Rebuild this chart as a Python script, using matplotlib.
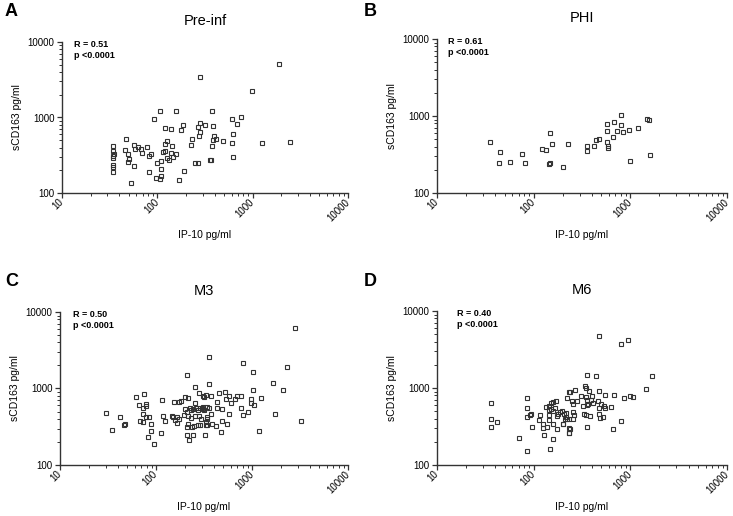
import matplotlib
matplotlib.use("Agg")
import matplotlib.pyplot as plt
from matplotlib.ticker import LogLocator, NullFormatter, FixedLocator

plt.rcParams['font.family'] = ['Liberation Sans', 'DejaVu Sans']

# Pre-inf (IP-10 pg/ml, sCD163 pg/ml)
pre_ip10 = [34, 34, 35, 34, 34, 34, 34, 34, 47, 46, 49, 57, 58, 63, 68, 69, 77, 85, 82, 51,
            49, 57, 53, 82, 99, 109, 109, 96, 107, 109, 116, 121, 138, 157, 145, 126, 133, 126, 120, 143,
            107, 158, 93, 121, 140, 187, 177, 281, 317, 267, 279, 276, 230, 226, 191, 169, 250, 267, 357, 281,
            1880, 993, 378, 612, 761, 686, 384, 394, 410, 384, 489, 627, 612, 375, 1256, 2466, 627, 366]
pre_scd163 = [423, 360, 332, 309, 288, 235, 219, 188, 524, 371, 329, 428, 386, 403, 379, 336, 403, 326, 309, 279,
              255, 226, 134, 190, 247, 208, 168, 157, 155, 263, 352, 357, 339, 329, 303, 288, 276, 493, 446, 419,
              1230, 1220, 946, 719, 698, 803, 683, 853, 803, 741, 643, 574, 519, 436, 194, 149, 252, 252, 274, 3390,
              5160, 2244, 1220, 964, 1015, 813, 771, 569, 524, 504, 493, 599, 455, 423, 455, 474, 303, 276]

# PHI
phi_ip10 = [35, 45, 44, 57, 76, 81, 122, 135, 149, 155, 145, 149, 200, 228, 358, 358, 424, 438,
            473, 569, 573, 573, 582, 582, 661, 681, 726, 800, 805, 838, 968, 998, 1207, 1486, 1568, 1594]
phi_scd163 = [455, 338, 243, 255, 321, 248, 376, 365, 601, 433, 238, 243, 216, 437, 404, 348, 411, 484,
              507, 639, 780, 464, 411, 388, 529, 828, 644, 764, 1040, 614, 658, 263, 705, 906, 879, 312]

# M3
m3_ip10 = [354, 210, 253, 354, 75, 62, 66, 79, 79, 74, 115, 155, 175, 184, 202, 217, 255, 279, 306, 316,
           332, 74, 68, 73, 79, 84, 88, 89, 83, 95, 113, 119, 125, 146, 151, 164, 172, 159, 167, 200,
           209, 226, 232, 245, 261, 276, 287, 304, 316, 337, 196, 217, 232, 257, 283, 292, 214, 235, 251, 276,
           287, 337, 209, 209, 245, 324, 219, 30, 42, 46, 48, 35,
           2805, 805, 1023, 2315, 1656, 2118, 1016, 527, 453, 377, 572, 540, 609, 665, 698, 774, 432, 977,
           968, 1050, 1242, 359, 432, 483, 768, 901, 811, 580, 1750, 377, 337, 342, 332, 334, 380, 419,
           487, 553, 3266, 472, 1175, 306, 311]
m3_scd163 = [2558, 1515, 1056, 1145, 847, 774, 614, 627, 596, 556, 701, 666, 672, 680, 781, 751, 646, 865, 805, 767,
             822, 460, 379, 365, 420, 424, 340, 276, 230, 187, 259, 437, 372, 437, 420, 428, 403, 388, 357, 545,
             498, 556, 524, 540, 556, 524, 556, 556, 524, 568, 455, 437, 408, 437, 437, 395, 340, 317, 324, 330,
             330, 336, 311, 249, 247, 244, 214, 474, 424, 336, 340, 287,
             6237, 2135, 1629, 1893, 1169, 955, 947, 908, 873, 798, 798, 722, 652, 722, 798, 798, 660, 722,
             652, 608, 751, 556, 556, 535, 561, 498, 447, 464, 469, 460, 420, 395, 365, 336, 347, 326,
             376, 340, 376, 270, 281, 578, 545]

# M6
m6_ip10 = [36, 36, 36, 42, 70, 85, 86, 86, 86, 92, 94, 95, 113, 116, 124, 126, 138, 144, 145, 143,
           134, 145, 150, 160, 169, 151, 157, 166, 173, 180, 187, 198, 204, 214, 219, 160, 173, 200, 128, 157,
           147, 221, 232, 230, 230,
           470, 800, 945, 356, 441, 1671, 1459, 337, 350, 371, 267, 237, 477, 308, 347, 404, 550, 676, 859,
           998, 1064, 249, 282, 353, 391, 462, 257, 326, 353, 367, 413, 493, 530, 546, 625, 477, 214, 257,
           261, 209, 233, 257, 331, 350, 382, 477, 485, 518, 201, 237, 233, 353, 800, 665]
m6_scd163 = [644, 396, 314, 365, 226, 152, 748, 550, 416, 442, 464, 314, 388, 450, 344, 305, 312, 388, 446, 518,
             566, 589, 633, 664, 678, 529, 498, 545, 433, 459, 492, 502, 459, 424, 396, 341, 294, 344, 243, 216,
             163, 748, 879, 300, 262,
             4780, 3760, 4240, 1489, 1419, 1432, 971, 1062, 991, 922, 950, 887, 914, 794, 771, 787, 804, 804, 735,
             787, 757, 684, 684, 698, 705, 678, 614, 589, 596, 625, 644, 620, 584, 550, 561, 555, 478, 488,
             442, 399, 399, 399, 459, 442, 433, 459, 411, 420, 341, 296, 258, 314, 376, 296]

panels = [
    ("A", "Pre-inf", pre_ip10, pre_scd163, "R = 0.51", [62, 42, 348, 193], 0.042),
    ("B", "PHI", phi_ip10, phi_scd163, "R = 0.61", [437, 39, 727, 193], 0.038),
    ("C", "M3", m3_ip10, m3_scd163, "R = 0.50", [60, 312, 348, 465], 0.044),
    ("D", "M6", m6_ip10, m6_scd163, "R = 0.40", [437, 311, 727, 465], 0.069),
]

W, H = 733, 516
fig = plt.figure(figsize=(W / 100, H / 100), dpi=100)

for letter, title, xs, ys, rtext, (x0, y0, x1, y1), tx in panels:
    ax = fig.add_axes([x0 / W, 1 - y1 / H, (x1 - x0) / W, (y1 - y0) / H])
    ax.plot(xs, ys, ls='none', marker='s', markersize=3.2, mfc='none',
            mec='#333333', mew=0.8)
    ax.set_xscale('log')
    ax.set_yscale('log')
    ax.set_xlim(10, 10000)
    ax.set_ylim(100, 10000)
    ax.xaxis.set_major_locator(FixedLocator([10, 100, 1000, 10000]))
    ax.yaxis.set_major_locator(FixedLocator([100, 1000, 10000]))
    for axis in (ax.xaxis, ax.yaxis):
        axis.set_minor_locator(LogLocator(base=10, subs=range(2, 10)))
        axis.set_minor_formatter(NullFormatter())
    ax.set_xticklabels(["10", "100", "1000", "10000"], rotation=45,
                       ha='right', va='center', rotation_mode='anchor')
    ax.set_yticklabels(["100", "1000", "10000"])
    ax.tick_params(which='major', length=3.5, width=0.9, labelsize=7, pad=2, color='#333333')
    ax.tick_params(which='minor', length=2, width=0.7, color='#333333')
    for s in ('top', 'right'):
        ax.spines[s].set_visible(False)
    for s in ('left', 'bottom'):
        ax.spines[s].set_linewidth(1.0)
        ax.spines[s].set_color('#333333')
    ax.set_title(title, fontsize=10.5, pad=12)
    ax.set_xlabel("IP-10 pg/ml", fontsize=7.5, labelpad=5)
    ax.set_ylabel("sCD163 pg/ml", fontsize=7.5, labelpad=4)
    ax.text(tx, 0.985, rtext, transform=ax.transAxes, fontsize=6.5,
            fontweight='bold', va='center', ha='left')
    ax.text(tx, 0.912, "p <0.0001", transform=ax.transAxes, fontsize=6.5,
            fontweight='bold', va='center', ha='left')
    lx = 5 if x0 < 200 else 364
    ly = 12 if y0 < 200 else 282
    fig.text(lx / W, 1 - ly / H, letter, fontsize=13, fontweight='bold',
             va='center', ha='left')

fig.savefig("out.png", dpi=100)
